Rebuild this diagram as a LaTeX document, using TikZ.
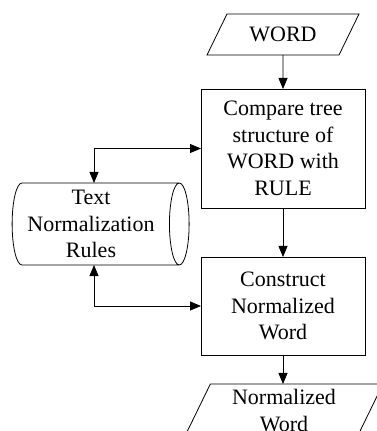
\documentclass[tikz,border=0pt]{standalone}
\usepackage{fontspec}
\setmainfont{Liberation Serif}
\usetikzlibrary{shapes.geometric,arrows.meta}
\tikzset{
  txt/.style={align=center, inner sep=0pt, font=\fontsize{22}{26.5}\selectfont},
  box/.style={txt, draw, line width=0.8pt, outer sep=0pt},
  proc/.style={box, rectangle, minimum width=164pt},
  io/.style={box, trapezium, trapezium left angle=64, trapezium right angle=116,
    trapezium stretches body},
  store/.style={box, cylinder, shape aspect=0.24, text height=41pt, text depth=41pt,
    minimum height=177pt},
  flow/.style={line width=0.8pt, -{Triangle[length=11pt,width=9pt]}},
  both/.style={flow, {Triangle[length=11pt,width=9pt]}-{Triangle[length=11pt,width=9pt]}}
}
\begin{document}
\begin{tikzpicture}[x=1pt, y=1pt]
    \useasboundingbox (0,0) rectangle (377,431);
    \clip (0,0) rectangle (377,431);
    \node[io, minimum width=152pt, text height=15pt, text depth=0pt, inner ysep=13pt] (word) at (283,396.5) {WORD};
    \node[proc, minimum height=119pt] (cmp) at (283,282.5) {Compare tree\\structure of\\WORD with\\RULE};
    \node[store, label={[txt, xshift=-4.5pt]center:{Text\\Normalization\\Rules}}] (rules) at (95.5,207) {};
    \node[proc, minimum height=98pt] (build) at (283,125) {Construct\\Normalized\\Word};
    \node[io, minimum width=198pt, text height=42pt, text depth=0pt, inner ysep=5pt] (out) at (284,21) {Normalized\\Word};
    \draw[flow] (word) -- (cmp);
    \draw[flow] (cmp) -- (build);
    \draw[flow] (build) -- (build.south |- out.north);
    \draw[both] ([xshift=-1.5pt]rules.north) |- (cmp.west);
    \draw[both] ([xshift=-1.5pt]rules.south) |- (build.west);
\end{tikzpicture}
\end{document}
